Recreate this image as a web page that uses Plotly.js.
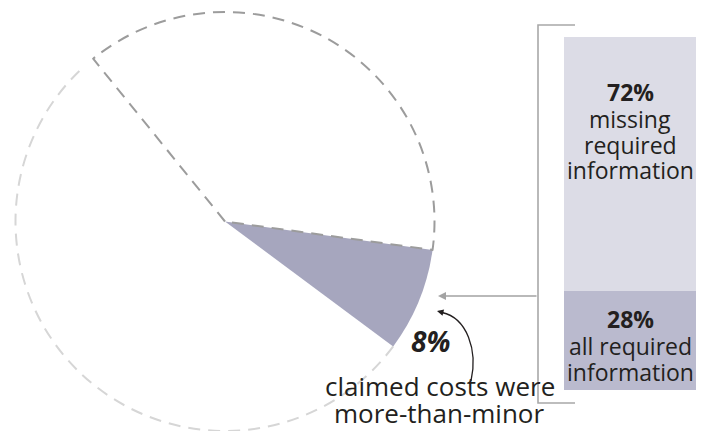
<!DOCTYPE html>
<html>
<head>
<meta charset="utf-8">
<script src="https://cdn.plot.ly/plotly-3.0.1.min.js"></script>
<style>
  html, body { margin: 0; padding: 0; background: #ffffff; }
  #chart { width: 703px; height: 431px; }
</style>
</head>
<body>
<div id="chart"></div>
<script>
// ---------- DATA ----------
// Pie (clockwise from the upper-left edge)
const pieLabels = ['outlined share', 'claimed costs were more-than-minor', 'remaining share'];
const pieValues = [38, 8, 54];
const pieFill = ['rgba(0,0,0,0)', '#a6a6be', 'rgba(0,0,0,0)'];
const pieOutline = ['#9c9c9c', 'rgba(0,0,0,0)', '#d6d6d6'];

// Stacked bar
const barCategories = ['all required information', 'missing required information'];
const barValues = [28, 72];
const barColors = ['#babace', '#dcdce6'];
const barPercentLabels = ['28%', '72%'];
const barTextLines = [['all required', 'information'], ['missing', 'required', 'information']];

// Callout text
const calloutPercent = '8%';
const calloutLines = ['claimed costs were', 'more-than-minor'];

// ---------- FIGURE ----------
const W = 703, H = 431;
const textColor = '#231f20';
const font = 'Open Sans, Noto Sans, sans-serif';

const pieDomain = { x: [15 / W, 435 / W], y: [0, 419 / H] };

const data = [
  {
    type: 'pie', labels: pieLabels, values: pieValues, sort: false,
    direction: 'clockwise', rotation: -39, domain: pieDomain,
    marker: { colors: pieFill, line: { width: 0 } },
    textinfo: 'none', hoverinfo: 'skip', showlegend: false
  },
  {
    type: 'pie', labels: pieLabels, values: pieValues, sort: false,
    direction: 'clockwise', rotation: -39, domain: pieDomain,
    marker: { colors: ['rgba(0,0,0,0)', 'rgba(0,0,0,0)', 'rgba(0,0,0,0)'],
              line: { color: pieOutline, width: [2, 0, 2] } },
    textinfo: 'none', hoverinfo: 'skip', showlegend: false
  },
  {
    type: 'bar', x: [0], y: [barValues[0]], name: barCategories[0],
    marker: { color: barColors[0], line: { width: 0 } },
    width: 1, hoverinfo: 'skip', showlegend: false
  },
  {
    type: 'bar', x: [0], y: [barValues[1]], name: barCategories[1],
    marker: { color: barColors[1], line: { width: 0 } },
    width: 1, hoverinfo: 'skip', showlegend: false
  },
  // empty helper trace so the pixel-like overlay axes exist
  { type: 'scatter', x: [], y: [], xaxis: 'x2', yaxis: 'y2', hoverinfo: 'skip', showlegend: false }
];

const annotations = [];
// bar texts (top segment, anchored at the segment top)
const topY = barValues[0] + barValues[1];
const topShifts = [-55, -82, -108, -133];
[('<b>' + barPercentLabels[1] + '</b>')].concat(barTextLines[1]).forEach(function (t, i) {
  annotations.push({ xref: 'x', yref: 'y', x: 0, y: topY, text: t, showarrow: false,
    yanchor: 'middle', xanchor: 'center', yshift: topShifts[i], borderpad: 0,
    font: { family: font, size: 23, color: textColor } });
});
// bar texts (bottom segment, anchored at the bar base)
const botShifts = [71, 44, 18];
[('<b>' + barPercentLabels[0] + '</b>')].concat(barTextLines[0]).forEach(function (t, i) {
  annotations.push({ xref: 'x', yref: 'y', x: 0, y: 0, text: t, showarrow: false,
    yanchor: 'middle', xanchor: 'center', yshift: botShifts[i], borderpad: 0,
    font: { family: font, size: 23, color: textColor } });
});
// callout
annotations.push({ xref: 'x2', yref: 'y2', x: 430, y: 341, text: '<b><i>' + calloutPercent + '</i></b>',
  showarrow: false, xanchor: 'center', yanchor: 'middle', borderpad: 0,
  font: { family: font, size: 28, color: textColor } });
annotations.push({ xref: 'x2', yref: 'y2', x: 440, y: 386, text: calloutLines[0],
  showarrow: false, xanchor: 'center', yanchor: 'middle', borderpad: 0,
  font: { family: font, size: 26, color: textColor } });
annotations.push({ xref: 'x2', yref: 'y2', x: 439, y: 413, text: calloutLines[1],
  showarrow: false, xanchor: 'center', yanchor: 'middle', borderpad: 0,
  font: { family: font, size: 26, color: textColor } });
// gray arrow from the bracket to the pie
annotations.push({ xref: 'x2', yref: 'y2', axref: 'x2', ayref: 'y2', x: 438, y: 296, ax: 538, ay: 296,
  text: '', showarrow: true, arrowhead: 2, arrowsize: 1, arrowwidth: 1.6, arrowcolor: '#a3a3a3' });
// black curved arrow head
annotations.push({ xref: 'x2', yref: 'y2', axref: 'x2', ayref: 'y2', x: 437, y: 311, ax: 445, ay: 313,
  text: '', showarrow: true, arrowhead: 2, arrowsize: 1, arrowwidth: 1.3, arrowcolor: textColor });

const shapes = [
  { type: 'path', xref: 'x2', yref: 'y2', path: 'M575,25 L538,25 L538,403 L575,403',
    line: { color: '#a8a8a8', width: 1.6 } },
  { type: 'path', xref: 'x2', yref: 'y2', path: 'M471,381 C478,350 467,318 442,312.5',
    line: { color: textColor, width: 1.3 } }
];

const layout = {
  width: W, height: H,
  margin: { l: 0, r: 0, t: 0, b: 0, pad: 0 },
  paper_bgcolor: '#ffffff', plot_bgcolor: 'rgba(0,0,0,0)',
  showlegend: false, barmode: 'stack', bargap: 0,
  xaxis: { domain: [564 / W, 696 / W], range: [-0.5, 0.5], visible: false, fixedrange: true },
  yaxis: { domain: [41 / H, 394 / H], range: [0, 100], visible: false, fixedrange: true },
  xaxis2: { domain: [0, 1], range: [0, W], visible: false, anchor: 'y2', fixedrange: true },
  yaxis2: { domain: [0, 1], range: [H, 0], visible: false, anchor: 'x2', fixedrange: true },
  annotations: annotations,
  shapes: shapes
};

const gd = document.getElementById('chart');
Plotly.newPlot(gd, data, layout, { staticPlot: true, displayModeBar: false }).then(function () {
  const traces = gd.querySelectorAll('.pielayer .trace');
  const outline = traces[traces.length - 1];
  const paths = outline.querySelectorAll('g.slice path.surface');
  const r = gd.calcdata[1][0].r;
  const dash = 12, gap = 8;
  if (paths[0]) paths[0].style.strokeDasharray = dash + ',' + gap;
  if (paths[2]) {
    const L = paths[2].getTotalLength();
    const arc = L - 2 * r;
    const n = Math.floor(arc / (dash + gap));
    const parts = [0, r];
    for (let i = 0; i < n; i++) parts.push(dash, gap);
    parts.push(0, 2 * r + 80);
    paths[2].style.strokeDasharray = parts.join(',');
  }
});
</script>
</body>
</html>
